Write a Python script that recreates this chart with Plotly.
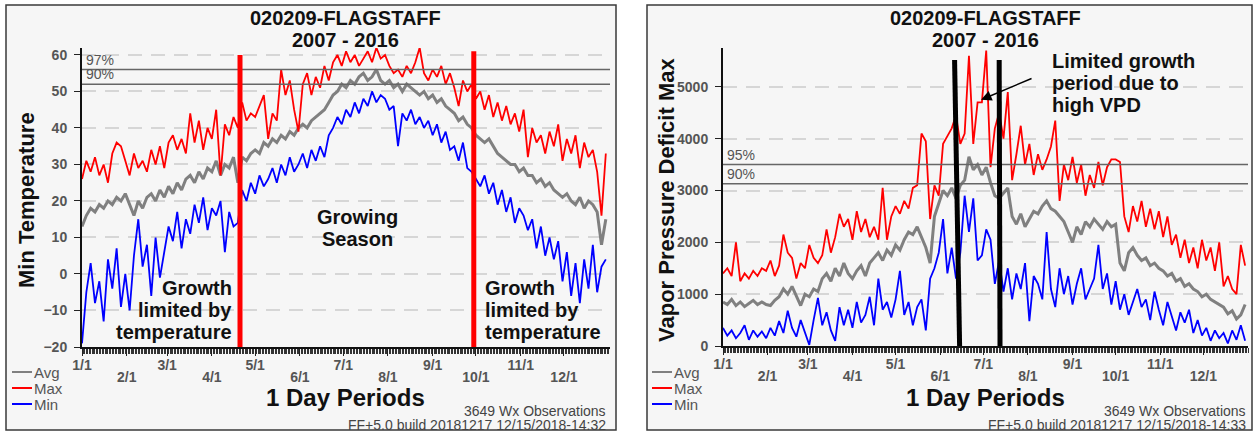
import plotly.graph_objects as go

days = list(range(1, 366, 3))

temp_max = [26, 31, 28, 32, 27, 30, 25, 33, 36, 35,
            31, 27, 33, 29, 31, 28, 34, 30, 35, 29,
            36, 38, 34, 37, 33, 44, 36, 42, 34, 40,
            37, 45, 27, 41, 38, 43, 40, 47, 42, 44,
            43, 46, 49, 37, 44, 42, 56, 49, 53, 45,
            39, 52, 55, 49, 54, 51, 57, 53, 58, 60,
            57, 61, 58, 60, 57, 59, 61, 58, 62, 59,
            60, 57, 55, 56, 54, 57, 55, 58, 62, 55,
            53, 56, 54, 57, 52, 55, 51, 46, 53, 50,
            52, 48, 50, 45, 49, 43, 47, 42, 46, 41,
            44, 39, 45, 32, 40, 36, 38, 33, 39, 35,
            41, 31, 37, 33, 38, 29, 36, 32, 34, 28,
            16, 33]
temp_avg = [13, 16, 18, 17, 19, 18, 20, 19, 21, 20,
            22, 19, 16, 20, 18, 21, 22, 20, 23, 21,
            24, 22, 25, 23, 26, 27, 25, 28, 26, 29,
            28, 31, 27, 30, 29, 32, 25, 32, 31, 33,
            34, 33, 36, 35, 37, 36, 38, 37, 39, 38,
            40, 41, 40, 42, 43, 44, 45, 47, 49, 50,
            52, 51, 53, 52, 54, 55, 53, 54, 56, 53,
            52, 53, 51, 52, 50, 52, 51, 50, 49, 50,
            48, 49, 47, 48, 46, 45, 44, 42, 43, 41,
            40, 38, 37, 36, 37, 35, 33, 32, 31, 30,
            30, 28, 29, 27, 27, 25, 26, 24, 25, 23,
            22, 21, 22, 20, 19, 21, 18, 20, 19, 17,
            8, 15]
temp_min = [-19, -5, 3, -8, -2, -13, 4, -4, 7, -9,
            0, -10, 5, 15, 2, 8, -6, 10, -1, 6,
            13, 9, 17, 7, 15, 11, 19, 14, 21, 12,
            18, 16, 20, 6, 17, 13, 14, 23, 20, 25,
            22, 27, 24, 26, 29, 25, 30, 27, 32, 28,
            30, 33, 29, 34, 31, 35, 32, 38, 40, 43,
            41, 45, 43, 47, 44, 48, 46, 50, 47, 49,
            48, 45, 46, 35, 44, 42, 45, 41, 43, 40,
            42, 38, 41, 36, 39, 34, 35, 31, 36, 29,
            28, 26, 24, 27, 22, 25, 19, 23, 17, 21,
            14, 18, 16, 12, 15, 7, 13, 5, 10, 4,
            9, -2, 6, -6, 3, -8, 4, -4, 8, -5,
            2, 4]

vpd_max = [1400, 1500, 1350, 2000, 1250, 1400, 1300, 1450, 1350, 1500,
           1450, 1650, 1350, 1550, 2150, 1800, 1700, 1300, 1600, 1500,
           1950, 1700, 1600, 1750, 2250, 1800, 2100, 2550, 2300, 2450,
           2050, 2600, 2200, 2450, 2100, 2300, 2050, 3050, 2050, 2500,
           2700, 2550, 2800, 2650, 3050, 3100, 4100, 3950, 2450, 3100,
           2900, 3900, 4050, 4200, 4450, 3900, 4100, 5600, 3900, 4700,
           4700, 5700, 3450, 4200, 4500, 4000, 4900, 3200, 3700, 4250,
           3500, 3900, 3300, 3700, 3400, 3600, 3850, 4350, 2800, 3500,
           3200, 3650, 3150, 3500, 2900, 3300, 3050, 3550, 3100, 3450,
           3600, 3600, 3550, 2500, 2200, 2700, 2400, 2800, 2300, 2650,
           2250, 2600, 2100, 2500, 1950, 2150, 1700, 2050, 1600, 1900,
           1500, 2050, 1650, 1900, 1450, 2000, 1150, 1350, 1100, 1000,
           1950, 1550]
vpd_avg = [850, 800, 900, 780, 850, 760, 820, 880, 800, 850,
           800, 780, 880, 950, 1100, 1000, 1150, 950, 780, 1000,
           950, 1100, 1050, 1300, 1400, 1250, 1500, 1350, 1600, 1400,
           1300, 1450, 1550, 1350, 1600, 1700, 1800, 1650, 1850, 1750,
           1950, 1850, 2050, 2200, 2150, 2300, 2100, 1900, 1600, 2500,
           2750, 3000, 2900, 3050, 2850, 3100, 3200, 3650, 3400, 3500,
           3300, 3450, 3150, 2900, 2850, 2950, 3050, 2500, 2350, 2550,
           2300, 2450, 2600, 2550, 2700, 2800, 2650, 2600, 2500, 2400,
           2200, 2000, 2300, 2150, 2400, 2300, 2450, 2350, 2250, 2400,
           2300, 2350, 1600, 1450, 1800, 1900, 1750, 1650, 1700, 1550,
           1600, 1500, 1450, 1350, 1400, 1250, 1300, 1150, 1200, 1100,
           1050, 950, 1000, 900, 850, 800, 750, 620, 680, 520,
           600, 800]
vpd_min = [350, 200, 300, 150, 250, 400, 120, 300, 180, 280,
           150, 350, 200, 480, 250, 680, 350, 180, 500, 250,
           20, 500, 930, 400, 650, 300, 100, 750, 400, 700,
           350, 850, 450, 600, 950, 400, 1300, 700, 850, 550,
           900, 1450, 600, 850, 400, 750, 900, 300, 1300, 1500,
           1800, 2450, 1400, 1900, 1300, 1800, 2900, 2200, 2850, 1650,
           1750, 2250, 2050, 1200, 1650, 1050, 1500, 900, 1400, 1100,
           1600, 480, 1350, 1200, 900, 2200, 1100, 750, 1500, 1000,
           1350, 800, 1200, 1500, 900, 1100, 1300, 1950, 1100, 1400,
           800, 1250, 700, 1000, 600, 850, 1100, 750, 900, 500,
           1050, 700, 400, 850, 550, 300, 650, 450, 700, 250,
           500, 200, 350, 100, 300, 150, 250, 50, 300, 120,
           400, 100]

month_starts = [1, 32, 60, 91, 121, 152, 182, 213, 244, 274, 305, 335]
month_labels = ["1/1", "2/1", "3/1", "4/1", "5/1", "6/1",
                "7/1", "8/1", "9/1", "10/1", "11/1", "12/1"]

series_names = ["Avg", "Max", "Min"]
series_colors = ["#808080", "#ff0000", "#0000ff"]
series_widths = [3, 1.8, 1.8]

temp_pct = {"97%": 56, "90%": 52}
vpd_pct = {"95%": 3500, "90%": 3130}

season_bounds = [(110.5, 60), (272.5, 61)]   # red markers, left chart (day, top)
vpd_limits = [(162, 165.5), (193, 193.6)]    # black markers, right chart (top day, bottom day)

# ---------------- layout helpers ----------------
W, H = 1256, 432
FONT = "Liberation Sans, Arial, sans-serif"


def px(x):
    return x / W


def py(y):
    return 1 - y / H


odd_text = [lab if i % 2 == 0 else "" for i, lab in enumerate(month_labels)]
even_vals = month_starts[1::2]
even_text = month_labels[1::2]

fig = go.Figure()

panels = [
    dict(xa="x", ya="y", vals=[temp_avg, temp_max, temp_min]),
    dict(xa="x2", ya="y2", vals=[vpd_avg, vpd_max, vpd_min]),
]
for p in panels:
    for name, col, wd, vals in zip(series_names, series_colors, series_widths, p["vals"]):
        fig.add_trace(go.Scatter(x=days, y=vals, mode="lines", name=name,
                                 line=dict(color=col, width=wd),
                                 xaxis=p["xa"], yaxis=p["ya"], showlegend=False,
                                 hoverinfo="skip"))
# placeholders so the second-row label axes are drawn
for xa, ya in [("x3", "y"), ("x4", "y2")]:
    fig.add_trace(go.Scatter(x=[None], y=[None], xaxis=xa, yaxis=ya, showlegend=False,
                             hoverinfo="skip"))

tick_font = dict(family=FONT, size=14, color="#555", weight="bold")


def xaxis_cfg(domain, anchor, rng):
    return dict(domain=domain, anchor=anchor, range=rng,
                tickmode="array", tickvals=month_starts, ticktext=odd_text,
                ticks="outside", ticklen=7, tickcolor="#222", tickwidth=1,
                minor=dict(tickmode="linear", tick0=1, dtick=1, ticks="outside",
                           ticklen=5, tickcolor="#333", tickwidth=1, showgrid=False),
                showline=True, linecolor="#111", linewidth=2,
                showgrid=False, zeroline=False, ticklabelstandoff=-3,
                tickfont=tick_font)


def xaxis_row2(over, anchor, rng):
    return dict(overlaying=over, anchor=anchor, range=rng, side="bottom",
                tickmode="array", tickvals=even_vals, ticktext=even_text,
                ticks="", showline=False, showgrid=False, zeroline=False,
                ticklabelstandoff=20, tickfont=tick_font)


def yaxis_cfg(domain, anchor, rng, dtick):
    return dict(domain=domain, anchor=anchor, range=rng, dtick=dtick,
                ticks="outside", ticklen=6, tickcolor="#222", tickwidth=1,
                showline=True, linecolor="#111", linewidth=2,
                showgrid=True, gridcolor="#d6d6d6", gridwidth=1.5, griddash="14px,9px",
                zeroline=False, ticklabelstandoff=4, tickfont=tick_font)


xr1 = [1, 366.9]
xr2 = [1, 366]
fig.update_layout(
    width=W, height=H, margin=dict(l=0, r=0, t=0, b=0, autoexpand=False),
    paper_bgcolor="white", plot_bgcolor="rgba(0,0,0,0)",
    xaxis=xaxis_cfg([px(82), px(610)], "y", xr1),
    yaxis=yaxis_cfg([py(347), py(48)], "x", [-20, 61.9], 10),
    xaxis2=xaxis_cfg([px(723), px(1248)], "y2", xr2),
    yaxis2=yaxis_cfg([py(346), py(48)], "x2", [0, 5750], 1000),
    xaxis3=xaxis_row2("x", "y", xr1),
    xaxis4=xaxis_row2("x2", "y2", xr2),
    showlegend=False,
)

shapes = []
annots = []


def label(text, x, y, xa="center", ya="middle", **kw):
    d = dict(text=text, xref="paper", yref="paper", x=px(x), y=py(y),
             xanchor=xa, yanchor=ya, showarrow=False)
    d.update(kw)
    annots.append(d)


# panel backgrounds / frames
for x0, x1 in [(6, 616), (647, 1252)]:
    shapes.append(dict(type="rect", xref="paper", yref="paper", x0=px(x0), x1=px(x1),
                       y0=py(430), y1=py(5), fillcolor="#f6f6f6",
                       line=dict(color="#3a3a3a", width=1.5), layer="below"))

# percentile lines and labels
for items, xr, yr, xl in [(temp_pct, "x", "y", 84), (vpd_pct, "x2", "y2", 725)]:
    for lab, val in items.items():
        shapes.append(dict(type="line", xref=xr + " domain", yref=yr, x0=0, x1=1, y0=val, y1=val,
                           line=dict(color="#666", width=1.5)))
        annots.append(dict(text=lab, xref="paper", yref=yr, x=px(xl), y=val, xanchor="left",
                           yanchor="bottom", showarrow=False,
                           font=dict(family=FONT, size=14, color="#555")))

# red season markers (left)
for d, top in season_bounds:
    shapes.append(dict(type="line", xref="x", yref="y", x0=d, x1=d, y0=-20, y1=top,
                       line=dict(color="#ff0000", width=5)))
# black VPD markers (right)
for d_top, d_bot in vpd_limits:
    shapes.append(dict(type="line", xref="x2", yref="y2", x0=d_top, x1=d_bot, y0=5520, y1=0,
                       line=dict(color="#000", width=5)))

title_font = dict(family=FONT, size=20, color="#111", weight="bold")
foot_font = dict(family=FONT, size=14, color="#444")
leg_font = dict(family=FONT, size=15, color="#555")

for cx, off, ytitle, stamp in [(345, 0, "Min Temperature", "12/15/2018-14:32"),
                               (985, 640, "Vapor Pressure Deficit Max", "12/15/2018-14:33")]:
    label("020209-FLAGSTAFF", cx, 18, font=title_font)
    label("2007 - 2016", cx, 40, font=title_font)
    label("1 Day Periods", cx, 397,
          font=dict(family=FONT, size=24, color="#111", weight="bold"))
    label(ytitle, 26 + off, 200, textangle=-90,
          font=dict(family=FONT, size=22, color="#111", weight="bold"))
    label("3649 Wx Observations", 608 + off, 411, xa="right", font=foot_font)
    label("FF+5.0 build 20181217 " + stamp, 608 + off, 425, xa="right", font=foot_font)
    lx = 12 + off
    for name, col, ly in zip(series_names, series_colors, [372, 388, 404]):
        shapes.append(dict(type="line", xref="paper", yref="paper", x0=px(lx), x1=px(lx + 20),
                           y0=py(ly), y1=py(ly), line=dict(color=col, width=2)))
        label(name, lx + 20, ly, xa="left", font=leg_font)

# text annotations on the charts
note_font = dict(family=FONT, size=20, color="#111", weight="bold")
for i, line in enumerate(["Growth", "limited by", "temperature"]):
    label(line, 234, 288 + 22 * i, xa="right", font=note_font)
    label(line, 483, 288 + 22 * i, xa="left", font=note_font)
for i, line in enumerate(["Growing", "Season"]):
    label(line, 357, 217 + 22 * i, font=note_font)
for i, line in enumerate(["Limited growth", "period due to", "high VPD"]):
    label(line, 1050, 61 + 22 * i, xa="left", font=note_font)
annots.append(dict(text="", xref="x2", yref="y2", x=180.4, y=4750, ax=52, ay=-22,
                   showarrow=True, arrowhead=2, arrowsize=1.4, arrowwidth=1.5,
                   arrowcolor="#000"))

fig.update_layout(shapes=shapes, annotations=annots)
fig.write_html("out.html", config={"displayModeBar": False},
               post_script="document.body.style.margin='0px';document.body.style.overflow='hidden';")
